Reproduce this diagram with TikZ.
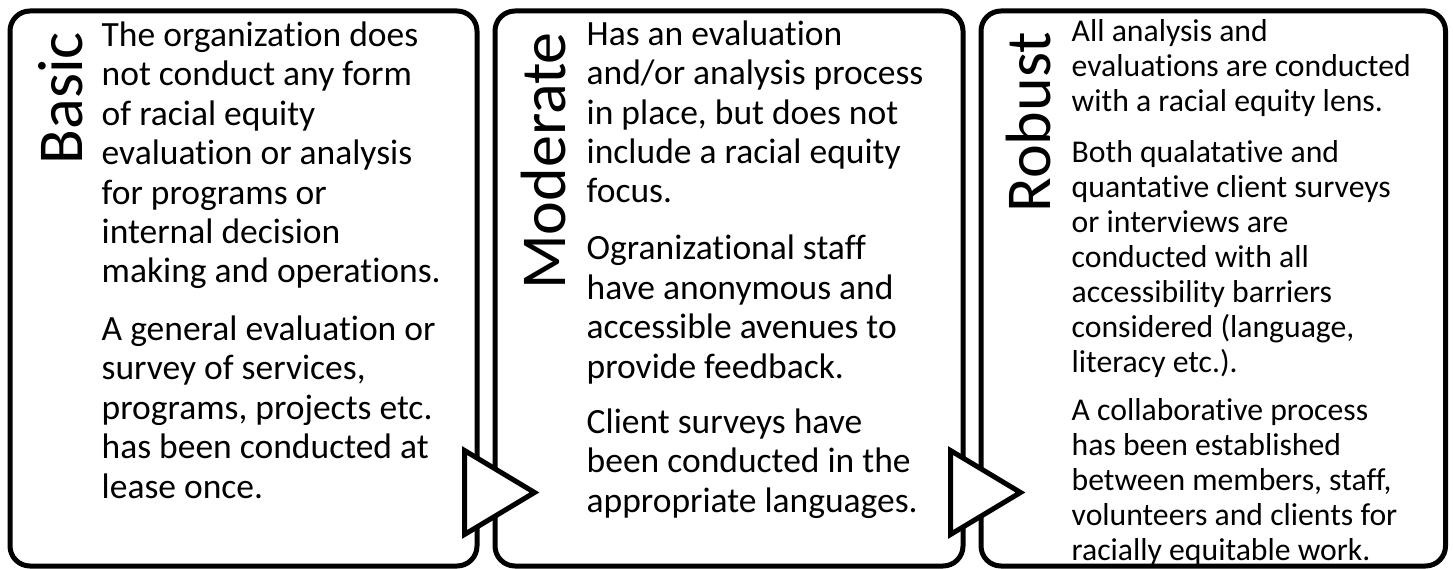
\documentclass[tikz,border=0pt]{standalone}
\usepackage{fontspec}
\setmainfont{Carlito}[Ligatures={NoCommon}]
\usetikzlibrary{positioning,calc}

\tikzset{
  stagebox/.style={draw,line width=5pt,rounded corners=20pt,fill=white,anchor=north west,inner sep=0pt},
  stagetitle/.style={rotate=90,anchor=base east,inner sep=0pt,font=\fontsize{64}{70}\selectfont},
  stagetext/.style={anchor=base west,inner sep=0pt,align=left,font=\fontsize{35.5}{39.4}\selectfont},
  smalltext/.style={stagetext,font=\fontsize{31.7}{35}\selectfont},
  stagearrow/.style={draw,line width=5pt,fill=white,line join=miter}
}

\begin{document}
\begin{tikzpicture}[x=1pt,y=-1pt]
  \useasboundingbox (0,0) rectangle (1453,569);
  % the three stages
  \node[stagebox,minimum width=467pt,minimum height=555pt] (basic) at (7.5,8.5) {};
  \node[stagebox,minimum width=468pt,minimum height=555pt] (moderate) at (492.5,8.5) {};
  \node[stagebox,minimum width=464.5pt,minimum height=555pt] (robust) at (978.5,8.5) {};

  % titles
  \node[below right=23.5pt and 74.5pt of basic.north west,stagetitle] (basictitle) {Basic};
  \node[below right=23.5pt and 72.5pt of moderate.north west,stagetitle] (moderatetitle) {Moderate};
  \node[below right=23.5pt and 71.5pt of robust.north west,stagetitle] (robusttitle) {Robust};

  % basic (placed by the baseline of the last line)
  \node[below right=274.5pt and 94pt of basic.north west,stagetext] (basicA) {
    The organization does\\not conduct any form\\of racial equity\\evaluation or analysis\\for programs or\\internal decision\\making and operations.};
  \node[below right=489.5pt and 94pt of basic.north west,stagetext] (basicB) {
    A general evaluation or\\survey of services,\\programs, projects etc.\\has been conducted at\\lease once.};

  % moderate
  \node[below right=194.5pt and 94pt of moderate.north west,stagetext] (moderateA) {
    Has an evaluation\\and/or analysis process\\in place, but does not\\include a racial equity\\focus.};
  \node[below right=369.5pt and 94pt of moderate.north west,stagetext] (moderateB) {
    Ogranizational staff\\have anonymous and\\accessible avenues to\\provide feedback.};
  \node[below right=503.5pt and 94pt of moderate.north west,stagetext] (moderateC) {
    Client surveys have\\been conducted in the\\appropriate languages.};

  % robust
  \node[below right=103.5pt and 93pt of robust.north west,smalltext] (robustA) {
    All analysis and\\evaluations are conducted\\with a racial equity lens.};
  \node[below right=363.5pt and 93pt of robust.north west,smalltext] (robustB) {
    Both qualatative and\\quantative client surveys\\or interviews are\\conducted with all\\accessibility barriers\\considered (language,\\literacy etc.).};
  \node[below right=551.5pt and 93pt of robust.north west,smalltext] (robustC) {
    A collaborative process\\has been established\\between members, staff,\\volunteers and clients for\\racially equitable work.};

  % arrows between stages
  \draw[stagearrow] ([shift={(-15,162)}]basic.east) -- ([shift={(55,204)}]basic.east)
    -- ([shift={(-15,246)}]basic.east) -- cycle;
  \draw[stagearrow] ([shift={(-15,162)}]moderate.east) -- ([shift={(55,204)}]moderate.east)
    -- ([shift={(-15,246)}]moderate.east) -- cycle;
\end{tikzpicture}
\end{document}
